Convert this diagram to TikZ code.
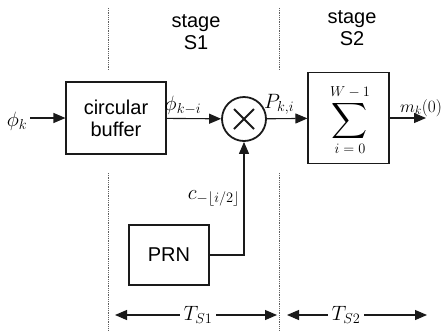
\documentclass[tikz,border=0pt]{standalone}
\usepackage{amsmath,amssymb}
\usepackage{fontspec}
\setmainfont{Liberation Sans}
\usepackage{tikz}
\usetikzlibrary{arrows.meta,positioning,calc}
\definecolor{ink}{HTML}{1A1A1A}

\begin{document}
\begin{tikzpicture}[x=1pt,y=-1pt,
  font=\fontsize{20}{22}\selectfont,
  blk/.style={draw=ink,line width=1.1pt,inner sep=0pt},
  lim/.style={font=\fontsize{14}{14}\selectfont,inner sep=0pt},
  arr/.style={-{Triangle[length=12pt,width=10pt]},line width=1.1pt,draw=ink},
  dim/.style={{Triangle[length=12pt,width=10pt]}-{Triangle[length=12pt,width=10pt]},line width=1.1pt,draw=ink},
  sep/.style={densely dotted,line width=.8pt,draw=ink!70}]
\useasboundingbox (0,0) rectangle (447,330);
% stage separators
\foreach \xx in {108,279} {
 \draw[sep] (\xx,8) -- (\xx,70);
 \draw[sep] (\xx,173) -- (\xx,330);}
\node[align=center] (s1) at (196,32) {stage\\S1};
\node[align=center] (s2) at (352,28) {stage\\S2};
% blocks
\node[blk,minimum width=100pt,minimum height=72pt,align=center] (buf) at (116,118) {circular\\buffer};
\node[circle,draw=ink,line width=1.8pt,minimum size=44pt,inner sep=0pt] (mix) at (244,119) {};
\draw[line width=1.8pt,ink] ($(mix.center)+(-10,-10)$) -- ($(mix.center)+(10,10)$)
 ($(mix.center)+(-10,10)$) -- ($(mix.center)+(10,-10)$);
\node[blk,minimum width=81pt,minimum height=91pt] (acc) at (348.5,118) {};
\node[inner sep=0pt] (sig) at (350,121) {\scalebox{1.25}{$\displaystyle\sum$}};
\node[lim,above=3pt of sig] (up) {$W-1$};
\node[lim,below=3pt of sig] (lo) {$i=0$};
\node[blk,minimum width=80pt,minimum height=60pt] (prn) at (169,255) {PRN};
\coordinate (in) at (30,118);
\coordinate (out) at (426,118);
\node (phik) at (17,121) {$\phi_k$};
% signal flow
\draw[arr] (in) -- (buf.west);
\draw[arr] (buf) -- node[pos=.3,above] {$\phi_{k-i}$} (mix);
\draw[arr] (mix) -- node[pos=.3,above] {$P_{k,i}$} (acc);
\draw[arr] (acc) -- node[pos=.3,anchor=south west,inner sep=1pt,xshift=-2pt] {\fontsize{18}{18}\selectfont$m_k(0)$} (out);
\draw[arr] (prn.east) -| node[pos=.75,left] {$c_{-\lfloor i/2\rfloor}$} (mix.south);
% stage durations
\coordinate (a1) at (115,315); \coordinate (b1) at (277,315);
\coordinate (a2) at (287,315); \coordinate (b2) at (427,315);
\draw[dim] (a1) -- (b1);
\draw[dim] (a2) -- (b2);
\node[fill=white,inner xsep=4pt] (t1) at (198,315) {$T_{S1}$};
\node[fill=white,inner xsep=4pt] (t2) at (346,315) {$T_{S2}$};
\end{tikzpicture}
\end{document}
